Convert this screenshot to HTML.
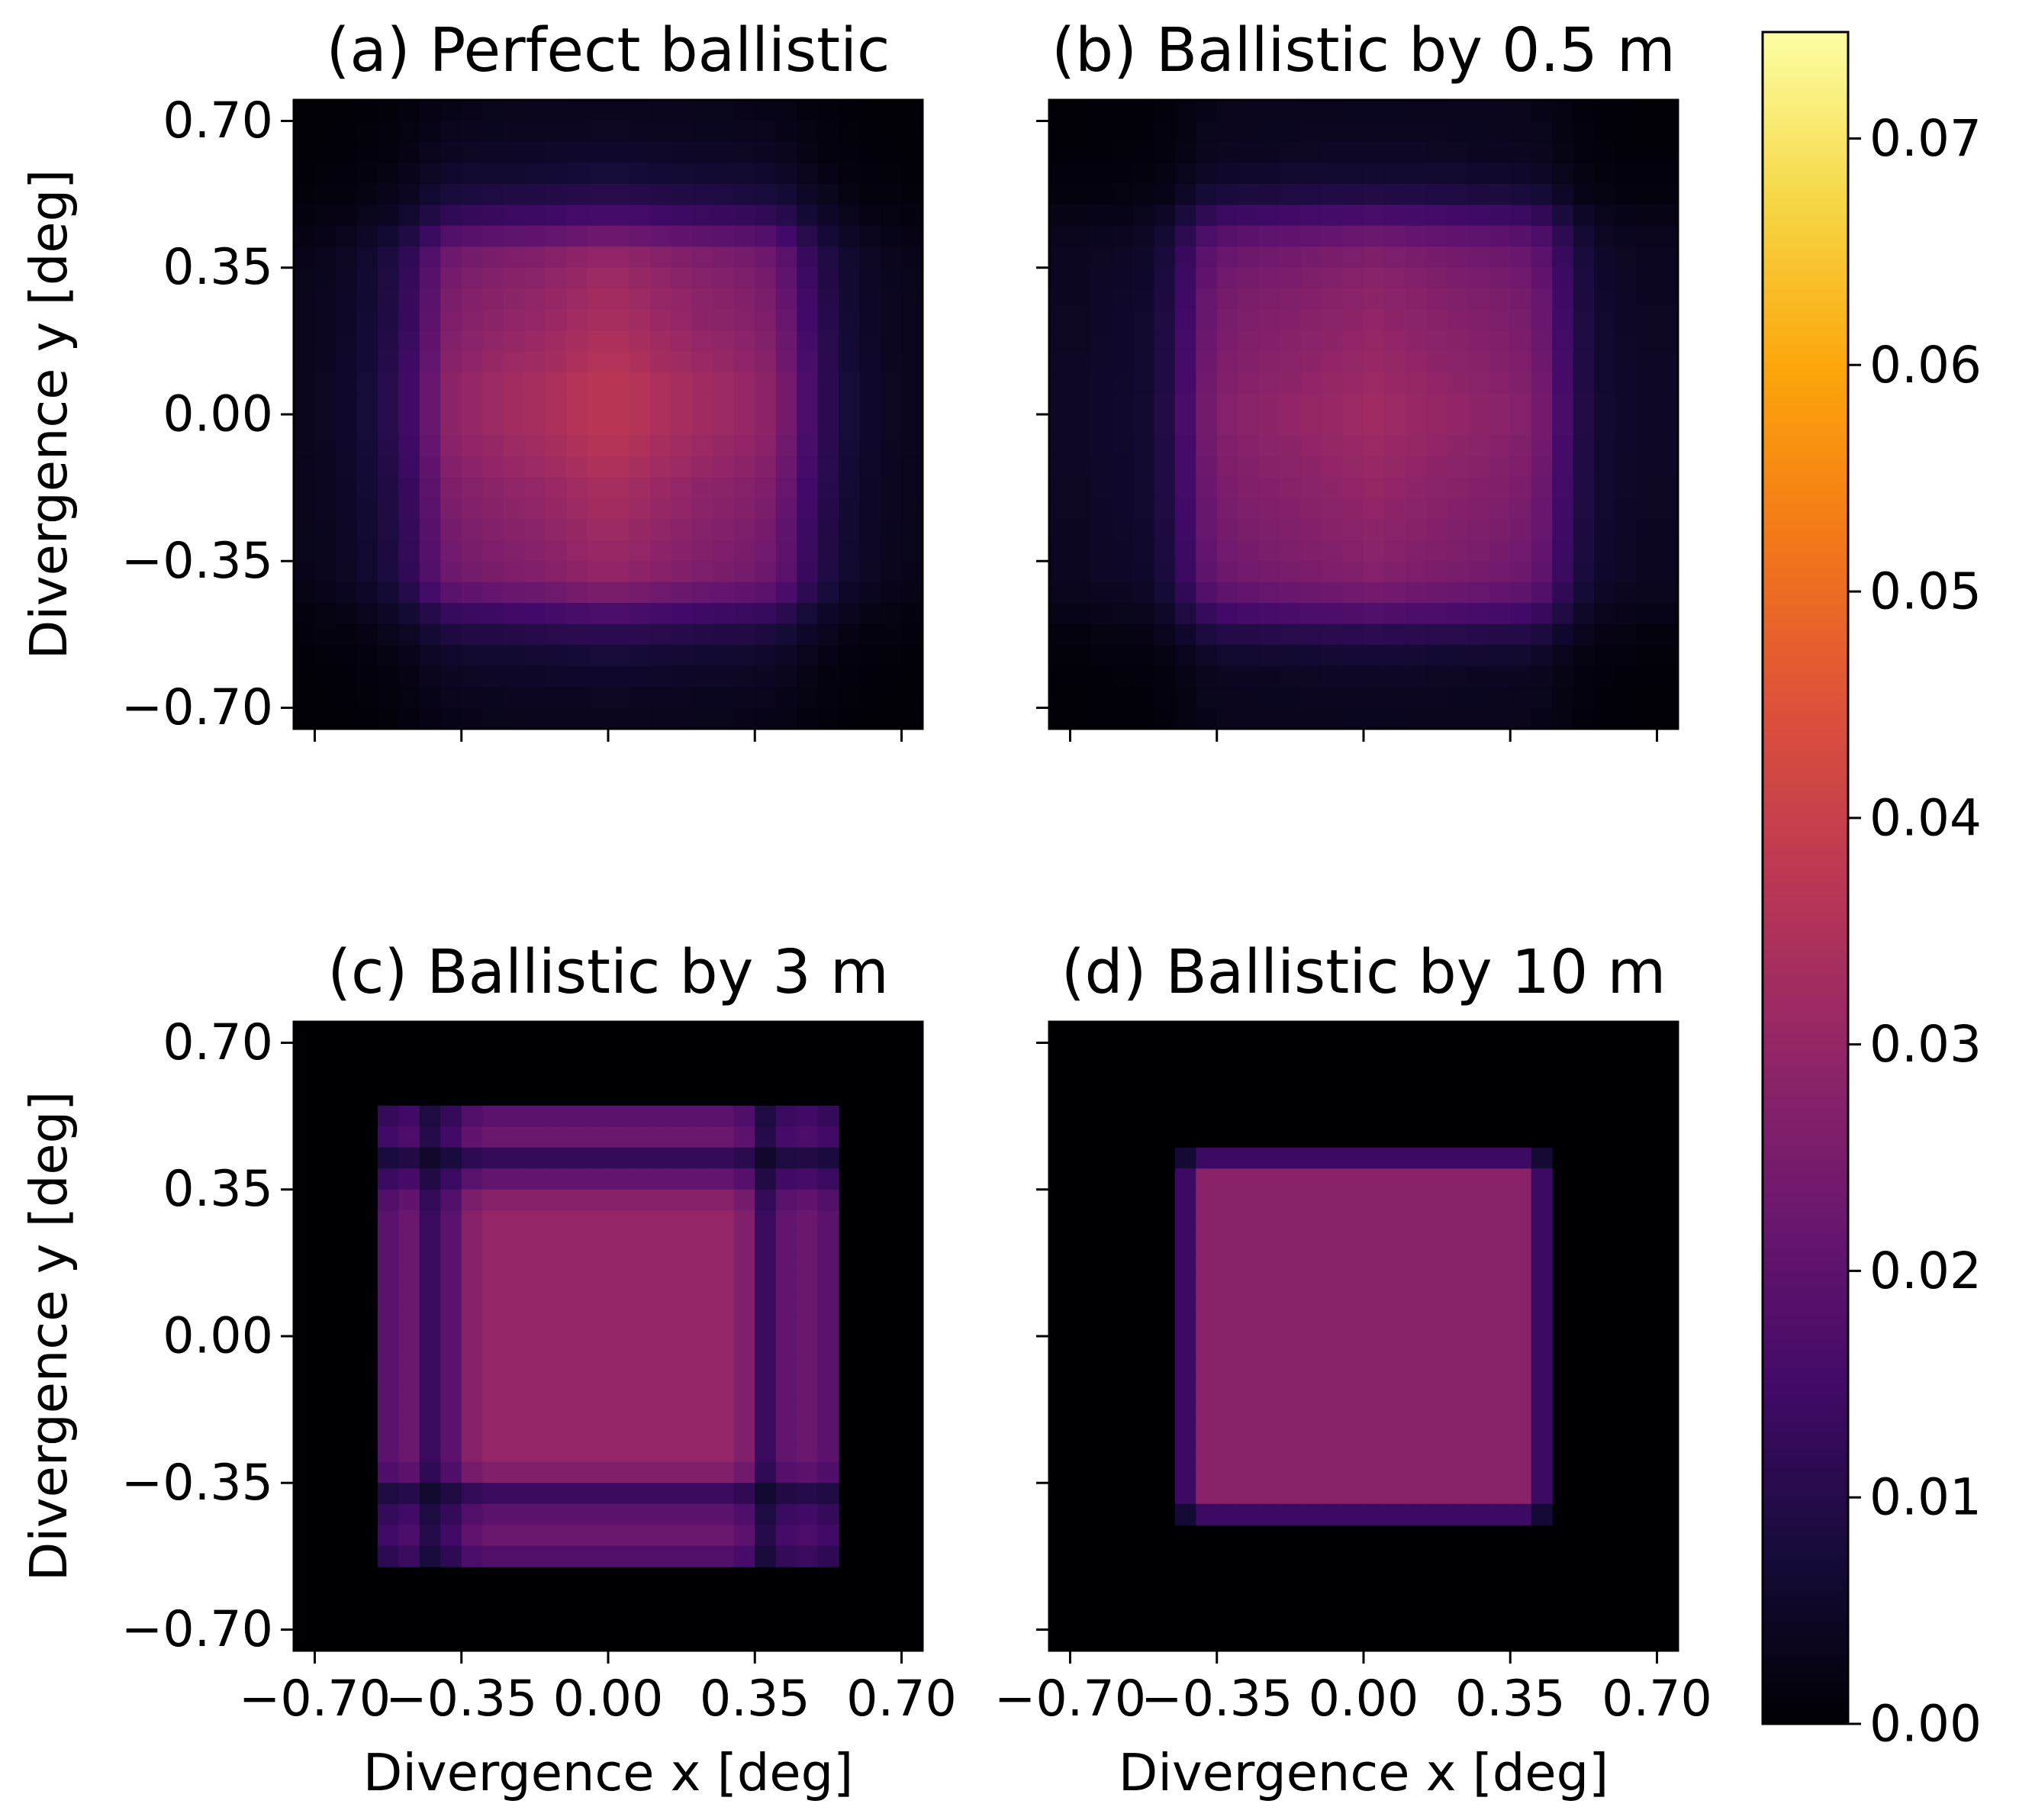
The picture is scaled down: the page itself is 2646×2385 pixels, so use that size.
<!DOCTYPE html>
<html><head><meta charset="utf-8">
<style>
html,body{margin:0;padding:0;background:#fff;}
svg{display:block;font-family:"DejaVu Sans","Liberation Sans",sans-serif;}
</style></head>
<body>
<svg id="fig" width="2646" height="2385" viewBox="0 0 2646 2385" xmlns="http://www.w3.org/2000/svg">
<defs>
<linearGradient id="inferno" x1="0" y1="1" x2="0" y2="0">
<stop offset="0" stop-color="#000004"/><stop offset="0.1" stop-color="#160b39"/>
<stop offset="0.2" stop-color="#420a68"/><stop offset="0.3" stop-color="#6a176e"/>
<stop offset="0.4" stop-color="#932667"/><stop offset="0.5" stop-color="#bc3754"/>
<stop offset="0.6" stop-color="#dd513a"/><stop offset="0.7" stop-color="#f37819"/>
<stop offset="0.8" stop-color="#fca50a"/><stop offset="0.9" stop-color="#f6d746"/>
<stop offset="1" stop-color="#fcffa4"/>
</linearGradient>
</defs>
<g id="root"></g>
</svg>
<script>
// ---- data (normalized marginal profiles, 30 bins over -0.75..0.75 deg) ----
const panelTitles = ["(a) Perfect ballistic","(b) Ballistic by 0.5 m","(c) Ballistic by 3 m","(d) Ballistic by 10 m"];
const panelPeaks = [0.037, 0.032, 0.030, 0.028];
const aX = [.1,.12,.15,.2,.28,.4,.6,.78,.82,.85,.88,.9,.93,.97,1,1,.97,.93,.9,.87,.85,.82,.78,.65,.45,.3,.2,.15,.12,.1];
const aY = [.1,.12,.15,.2,.28,.42,.62,.8,.85,.88,.9,.93,.96,1,1,1,.97,.94,.9,.88,.85,.83,.8,.68,.45,.3,.2,.15,.12,.1];
const bX = [.15,.15,.17,.18,.2,.3,.5,.75,.85,.88,.9,.92,.94,.96,.98,1,.98,.96,.94,.92,.9,.88,.85,.75,.5,.3,.2,.17,.15,.15];
const bY = [.12,.13,.15,.2,.3,.5,.7,.82,.87,.9,.92,.94,.96,.98,1,1,.98,.96,.94,.92,.9,.88,.85,.75,.55,.35,.22,.15,.13,.12];
const cX = [0,0,0,0,.65,.75,.45,.65,.92,1,1,1,1,1,1,1,1,1,1,1,1,.88,.45,.7,.75,.65,0,0,0,0];
const cY = [0,0,0,0,.65,.75,.42,.7,.92,1,1,1,1,1,1,1,1,1,1,1,1,.88,.45,.65,.75,.6,0,0,0,0];
const dX = [0,0,0,0,0,0,.5,1,1,1,1,1,1,1,1,1,1,1,1,1,1,1,1,.5,0,0,0,0,0,0];
const dY = [0,0,0,0,0,0,.5,1,1,1,1,1,1,1,1,1,1,1,1,1,1,1,1,.5,0,0,0,0,0,0];
const tickVals = [-0.70,-0.35,0.00,0.35,0.70];
const tickLabels = ["\u22120.70","\u22120.35","0.00","0.35","0.70"];
const cbarTicks = [0,0.01,0.02,0.03,0.04,0.05,0.06,0.07];
const cbarLabels = ["0.00","0.01","0.02","0.03","0.04","0.05","0.06","0.07"];
const cbarMax = 0.0747;

const NS="http://www.w3.org/2000/svg";
const root=document.getElementById('root');
function mk(tag,attrs,parent){const e=document.createElementNS(NS,tag);for(const k in attrs)e.setAttribute(k,attrs[k]);(parent||root).appendChild(e);return e;}

const stops=[[0,0,0,4],[.1,22,11,57],[.2,66,10,104],[.3,106,23,110],[.4,147,38,103],[.5,188,55,84],[.6,221,81,58],[.7,243,120,25],[.8,252,165,10],[.9,246,215,70],[1,252,255,164]];
function cmap(t){t=Math.max(0,Math.min(1,t));for(let i=1;i<stops.length;i++){if(t<=stops[i][0]){const a=stops[i-1],b=stops[i];const f=(t-a[0])/(b[0]-a[0]);return `rgb(${Math.round(a[1]+f*(b[1]-a[1]))},${Math.round(a[2]+f*(b[2]-a[2]))},${Math.round(a[3]+f*(b[3]-a[3]))})`;}}return 'rgb(252,255,164)';}

const W=824, LIM=0.75;
const panels=[
 {l:385,t:131,xs:aX,ys:aY,yl:true,xl:false},
 {l:1375,t:131,xs:bX,ys:bY,yl:false,xl:false},
 {l:385,t:1339,xs:cX,ys:cY,yl:true,xl:true},
 {l:1375,t:1339,xs:dX,ys:dY,yl:false,xl:true}];

panels.forEach((p,pi)=>{
  const xScale=v=>p.l+(v+LIM)/(2*LIM)*W;
  const yScale=v=>p.t+(LIM-v)/(2*LIM)*W;
  const g=mk('g',{});
  
  
  const n=p.xs.length, step=2*LIM/n;
  mk('rect',{x:p.l,y:p.t,width:W,height:W,fill:'#000004'},g);
  for(let j=0;j<n;j++){
    const yTop=LIM-j*step;
    for(let i=0;i<n;i++){
      const v=panelPeaks[pi]*p.xs[i]*p.ys[j];
      if(v<=0)continue;
      const x0=xScale(-LIM+i*step), x1=xScale(-LIM+(i+1)*step);
      const y0=yScale(yTop), y1=yScale(yTop-step);
      const r=mk('rect',{x:x0.toFixed(2),y:y0.toFixed(2),width:(x1-x0+0.6).toFixed(2),height:(y1-y0+0.6).toFixed(2),fill:cmap(v/cbarMax)},g);
      
      
    }
  }
  mk('rect',{x:p.l,y:p.t,width:W,height:W,fill:'none',stroke:'#000',"stroke-width":3},g);
  const title=mk('text',{x:p.l+W/2,y:p.t-38,"text-anchor":"middle","font-size":79,fill:'#000'},g);
  title.textContent=panelTitles[pi];
  
  
  tickVals.forEach((v,k)=>{
    const yy=yScale(v);
    mk('line',{x1:p.l,x2:p.l-17,y1:yy,y2:yy,stroke:'#000',"stroke-width":3},g);
    if(p.yl){const tl=mk('text',{x:p.l-27,y:yy,"text-anchor":"end","dominant-baseline":"central","font-size":65},g);tl.textContent=tickLabels[k];
      
      }
    const xx=xScale(v);
    mk('line',{x1:xx,x2:xx,y1:p.t+W,y2:p.t+W+17,stroke:'#000',"stroke-width":3},g);
    if(p.xl){const tl=mk('text',{x:xx,y:p.t+W+85,"text-anchor":"middle","font-size":65},g);tl.textContent=tickLabels[k];
      
      }
  });
  if(p.xl){const xl=mk('text',{x:p.l+W/2,y:p.t+W+183,"text-anchor":"middle","font-size":67},g);xl.textContent="Divergence x [deg]";
    
    }
  if(p.yl){const cy=p.t+W/2;const yl=mk('text',{x:64,y:cy,"text-anchor":"middle","dominant-baseline":"central","font-size":67,transform:`rotate(-90 64 ${cy})`},g);yl.textContent="Divergence y [deg]";
    
    }
});

// colorbar
const cb=mk('g',{});


const cbL=2310,cbR=2422,cbT=42,cbB=2259;
const cbScale=v=>cbB-(v/cbarMax)*(cbB-cbT);
mk('rect',{x:cbL,y:cbT,width:cbR-cbL,height:cbB-cbT,fill:'url(#inferno)',stroke:'#000',"stroke-width":3},cb);
cbarTicks.forEach((v,k)=>{
  const yy=cbScale(v);
  mk('line',{x1:cbR,x2:cbR+17,y1:yy,y2:yy,stroke:'#000',"stroke-width":3},cb);
  const t=mk('text',{x:cbR+28,y:yy,"dominant-baseline":"central","font-size":66},cb);
  t.textContent=cbarLabels[k];
  
  
});
</script>
</body></html>
